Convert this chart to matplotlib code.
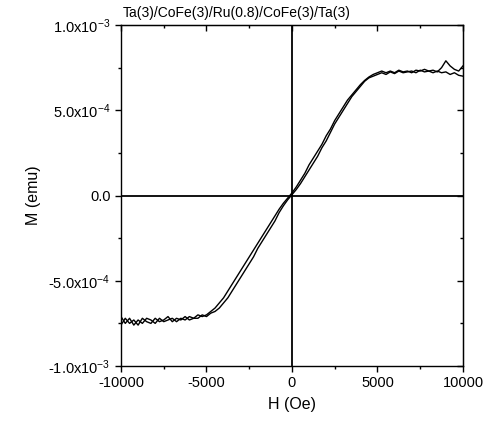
import numpy as np
import matplotlib.pyplot as plt
from matplotlib.ticker import MultipleLocator, FuncFormatter

plt.rcParams['font.family'] = ['Liberation Sans', 'DejaVu Sans']
plt.rcParams['mathtext.default'] = 'regular'
plt.rcParams['axes.unicode_minus'] = False

title = 'Ta(3)/CoFe(3)/Ru(0.8)/CoFe(3)/Ta(3)'

# field sweep (Oe)
H = [-10000, -9750, -9500, -9250, -9000, -8750, -8500, -8250, -8000, -7750,
     -7500, -7250, -7000, -6750, -6500, -6250, -6000, -5750, -5500, -5250,
     -5000, -4750, -4500, -4250, -4000, -3750, -3500, -3250, -3000, -2750,
     -2500, -2250, -2000, -1750, -1500, -1250, -1000, -750, -500, -250,
     0, 250, 500, 750, 1000, 1250, 1500, 1750, 2000, 2250,
     2500, 2750, 3000, 3250, 3500, 3750, 4000, 4250, 4500, 4750,
     5000, 5250, 5500, 5750, 6000, 6250, 6500, 6750, 7000, 7250,
     7500, 7750, 8000, 8250, 8500, 8750, 9000, 9250, 9500, 9750, 10000]

# magnetisation, units of 1e-4 emu
m_down = [-7.6, -7.2, -7.5, -7.3, -7.6, -7.2, -7.4, -7.5, -7.2, -7.4,
          -7.3, -7.1, -7.4, -7.2, -7.3, -7.1, -7.3, -7.2, -7.0, -7.1,
          -7.0, -6.8, -6.6, -6.3, -6.0, -5.6, -5.2, -4.8, -4.4, -4.0,
          -3.6, -3.2, -2.8, -2.4, -2.0, -1.6, -1.2, -0.8, -0.45, -0.15,
          0.15, 0.5, 0.9, 1.3, 1.8, 2.2, 2.6, 3.0, 3.5, 3.9,
          4.4, 4.8, 5.2, 5.6, 5.9, 6.2, 6.5, 6.75, 6.95, 7.1,
          7.2, 7.3, 7.2, 7.3, 7.2, 7.35, 7.25, 7.3, 7.2, 7.35,
          7.3, 7.4, 7.3, 7.35, 7.25, 7.5, 7.9, 7.6, 7.4, 7.3, 7.6]

m_up = [-7.1, -7.5, -7.2, -7.6, -7.3, -7.5, -7.2, -7.3, -7.5, -7.2,
        -7.4, -7.3, -7.2, -7.4, -7.2, -7.3, -7.1, -7.2, -7.2, -7.0,
        -7.1, -6.9, -6.8, -6.6, -6.3, -6.0, -5.6, -5.2, -4.8, -4.4,
        -4.0, -3.6, -3.1, -2.7, -2.3, -1.9, -1.5, -1.0, -0.6, -0.25,
        0.05, 0.35, 0.7, 1.1, 1.5, 1.9, 2.3, 2.8, 3.2, 3.7,
        4.2, 4.6, 5.0, 5.4, 5.8, 6.1, 6.4, 6.7, 6.9, 7.0,
        7.1, 7.2, 7.1, 7.25, 7.15, 7.3, 7.2, 7.25, 7.3, 7.2,
        7.35, 7.25, 7.3, 7.2, 7.3, 7.2, 7.25, 7.1, 7.2, 7.05, 7.0]


def fmt_y(v, pos):
    if abs(v) < 1e-12:
        return '0.0'
    exp = int(np.floor(np.log10(abs(v))))
    mant = v / 10**exp
    return f'{mant:.1f}x10$^{{{exp}}}$'


def main():
    fig = plt.figure(figsize=(4.83, 4.21), dpi=100)
    ax = fig.add_axes([0.2505, 0.1306, 0.708, 0.81])

    h = np.array(H)
    ax.plot(h, np.array(m_down) * 1e-4, color='black', lw=1.0)
    ax.plot(h, np.array(m_up) * 1e-4, color='black', lw=1.0)

    ax.axhline(0, color='black', lw=1.3)
    ax.axvline(0, color='black', lw=1.3)

    ax.set_xlim(-10000, 10000)
    ax.set_ylim(-1e-3, 1e-3)
    ax.xaxis.set_major_locator(MultipleLocator(5000))
    ax.xaxis.set_minor_locator(MultipleLocator(2500))
    ax.yaxis.set_major_locator(MultipleLocator(5e-4))
    ax.yaxis.set_minor_locator(MultipleLocator(2.5e-4))
    ax.yaxis.set_major_formatter(FuncFormatter(fmt_y))

    for s in ax.spines.values():
        s.set_linewidth(1.0)
    ax.tick_params(which='both', direction='out', labelsize=10.5, width=1.0)
    ax.tick_params(which='major', length=4)
    ax.tick_params(which='minor', length=2.5)

    # top and right axes: ticks pointing inwards, no labels
    top = ax.secondary_xaxis('top')
    top.xaxis.set_major_locator(MultipleLocator(5000))
    top.xaxis.set_minor_locator(MultipleLocator(2500))
    top.tick_params(which='both', direction='in', labeltop=False, width=1.0)
    top.tick_params(which='major', length=4)
    top.tick_params(which='minor', length=2.5)
    right = ax.secondary_yaxis('right')
    right.yaxis.set_major_locator(MultipleLocator(5e-4))
    right.yaxis.set_minor_locator(MultipleLocator(2.5e-4))
    right.tick_params(which='both', direction='in', labelright=False, width=1.0)
    right.tick_params(which='major', length=4)
    right.tick_params(which='minor', length=2.5)

    ax.set_xlabel('H (Oe)', fontsize=11.5, labelpad=5)
    ax.set_ylabel('M (emu)', fontsize=11.5, labelpad=5)
    fig.text(123 / 483, 1 - 13 / 421, title, fontsize=10, va='center', ha='left')

    fig.savefig('out.png', dpi=100)
    plt.close(fig)


if __name__ == "__main__":
    main()
